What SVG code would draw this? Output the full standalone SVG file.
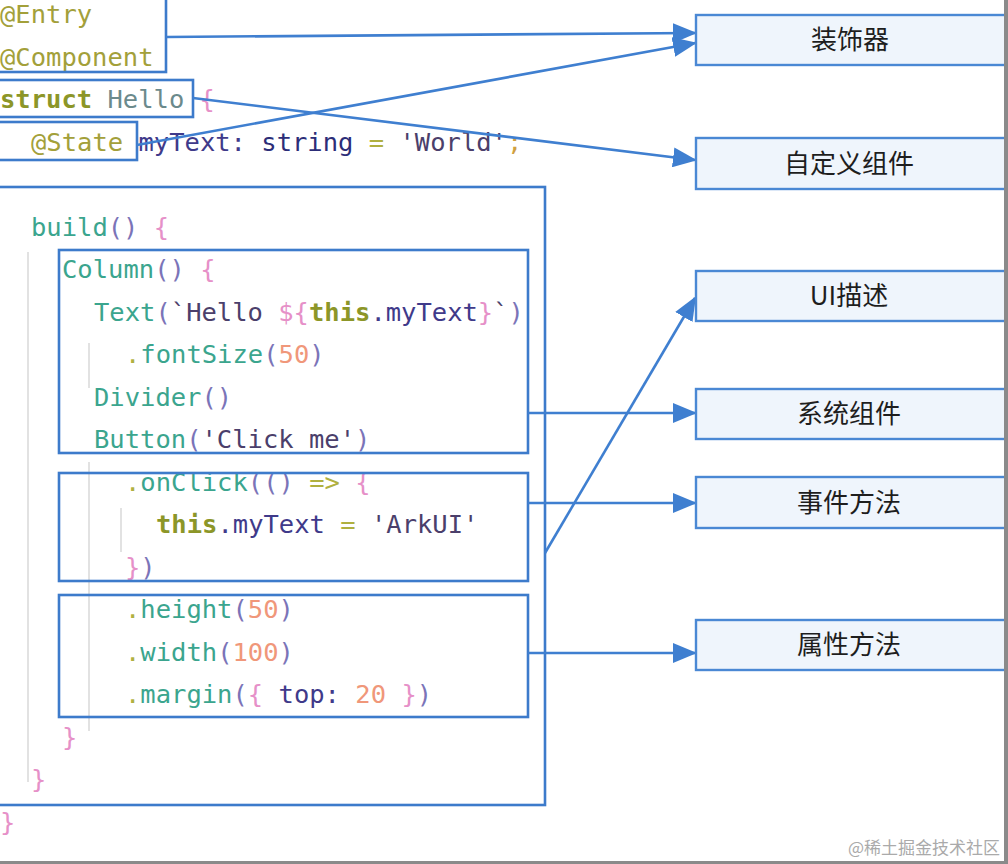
<svg xmlns="http://www.w3.org/2000/svg" width="1008" height="864" viewBox="0 0 1008 864">
<style>
.code{font-family:"DejaVu Sans Mono","Liberation Mono",monospace;font-size:25.5px;}
.dec{fill:#a3a03a}.kw{fill:#8c9628;font-weight:bold}.cls{fill:#6b8a8c}.br{fill:#e690c8}
.fn{fill:#3ba58e}.pa{fill:#7b74b8}.st{fill:#4b3f6b}.va{fill:#3f3a8a}.num{fill:#f0977a}.op{fill:#b0b040}
.guide{stroke:#e2e2e2;stroke-width:2}
.cbox{fill:none;stroke:#3d7bcb;stroke-width:2.6}
.nbox{fill:#eff5fc;stroke:#4a88d4;stroke-width:2.4}
.lbl{font-family:"Noto Sans CJK SC","Noto Sans",sans-serif;font-size:26px;fill:#1e1e1e;text-anchor:middle}
.conn{stroke:#3f7fd0;stroke-width:2.6;fill:none}
</style>
<defs>
<marker id="ah" markerUnits="userSpaceOnUse" markerWidth="24" markerHeight="20" refX="22" refY="10" orient="auto">
<path d="M0,0 L24,10 L0,20 Z" fill="#3f7fd0"/>
</marker>
</defs>
<rect width="1008" height="864" fill="#ffffff"/>
<g id="guides">
<line class="guide" x1="28" y1="252" x2="28" y2="782"/>
<line class="guide" x1="89" y1="462" x2="89" y2="731"/>
<line class="guide" x1="89" y1="343" x2="89" y2="388"/>
<line class="guide" x1="121" y1="508" x2="121" y2="552"/>
</g>
<g id="code" class="code" xml:space="preserve">
<text x="0" y="23"><tspan class="dec">@Entry</tspan></text>
<text x="0" y="65.5"><tspan class="dec">@Component</tspan></text>
<text x="0" y="108"><tspan class="kw">struct</tspan><tspan class="cls"> Hello</tspan><tspan class="br"> {</tspan></text>
<text x="31" y="150.5"><tspan class="dec">@State</tspan><tspan class="va"> myText:</tspan><tspan fill="#2c2d78"> string</tspan><tspan class="op"> =</tspan><tspan class="st"> 'World'</tspan><tspan fill="#d0a040">;</tspan></text>
<text x="31" y="235.5"><tspan class="fn">build</tspan><tspan class="pa">()</tspan><tspan class="br"> {</tspan></text>
<text x="62" y="278"><tspan class="fn">Column</tspan><tspan class="pa">()</tspan><tspan class="br"> {</tspan></text>
<text x="94" y="320.5"><tspan class="fn">Text</tspan><tspan class="pa">(</tspan><tspan class="st">`Hello </tspan><tspan class="br">${</tspan><tspan class="kw">this</tspan><tspan class="va">.myText</tspan><tspan class="br">}</tspan><tspan class="st">`</tspan><tspan class="pa">)</tspan></text>
<text x="125" y="363"><tspan class="op">.</tspan><tspan class="fn">fontSize</tspan><tspan class="pa">(</tspan><tspan class="num">50</tspan><tspan class="pa">)</tspan></text>
<text x="94" y="405.5"><tspan class="fn">Divider</tspan><tspan class="pa">()</tspan></text>
<text x="94" y="448"><tspan class="fn">Button</tspan><tspan class="pa">(</tspan><tspan class="st">'Click me'</tspan><tspan class="pa">)</tspan></text>
<text x="125" y="490.5"><tspan class="op">.</tspan><tspan class="fn">onClick</tspan><tspan class="pa">(()</tspan><tspan class="op"> =&gt;</tspan><tspan class="br"> {</tspan></text>
<text x="156" y="533"><tspan class="kw">this</tspan><tspan class="va">.myText</tspan><tspan class="op"> =</tspan><tspan class="st"> 'ArkUI'</tspan></text>
<text x="125" y="575.5"><tspan class="br">}</tspan><tspan class="pa">)</tspan></text>
<text x="125" y="618"><tspan class="op">.</tspan><tspan class="fn">height</tspan><tspan class="pa">(</tspan><tspan class="num">50</tspan><tspan class="pa">)</tspan></text>
<text x="125" y="660.5"><tspan class="op">.</tspan><tspan class="fn">width</tspan><tspan class="pa">(</tspan><tspan class="num">100</tspan><tspan class="pa">)</tspan></text>
<text x="125" y="703"><tspan class="op">.</tspan><tspan class="fn">margin</tspan><tspan class="pa">(</tspan><tspan class="br">{</tspan><tspan class="va"> top:</tspan><tspan class="num"> 20</tspan><tspan class="br"> }</tspan><tspan class="pa">)</tspan></text>
<text x="62" y="745.5"><tspan class="br">}</tspan></text>
<text x="31" y="788"><tspan class="br">}</tspan></text>
<text x="0" y="830.5"><tspan class="br">}</tspan></text>
</g>
<g id="code-boxes">
<rect id="box-decorators" class="cbox" x="-2" y="-2" width="168" height="74"/>
<rect id="box-struct" class="cbox" x="-2" y="80" width="195" height="37"/>
<rect id="box-state" class="cbox" x="-2" y="122" width="139" height="38"/>
<rect id="box-build" class="cbox" x="-2" y="187" width="547" height="618"/>
<rect id="box-column" class="cbox" x="59" y="250" width="469" height="203"/>
<rect id="box-onclick" class="cbox" x="59" y="473" width="469" height="108"/>
<rect id="box-attrs" class="cbox" x="59" y="595" width="469" height="122"/>
</g>
<g id="connectors">
<line class="conn" x1="166" y1="37" x2="695" y2="33" marker-end="url(#ah)"/>
<line class="conn" x1="137" y1="145" x2="695" y2="43" marker-end="url(#ah)"/>
<line class="conn" x1="193" y1="98" x2="695" y2="160" marker-end="url(#ah)"/>
<line class="conn" x1="545" y1="553" x2="695" y2="298" marker-end="url(#ah)"/>
<line class="conn" x1="528" y1="413" x2="695" y2="413" marker-end="url(#ah)"/>
<line class="conn" x1="528" y1="503" x2="695" y2="503" marker-end="url(#ah)"/>
<line class="conn" x1="528" y1="653" x2="695" y2="653" marker-end="url(#ah)"/>
</g>
<g id="node-decorator"><rect class="nbox" x="696" y="15" width="310" height="50"/><text class="lbl" x="850" y="49">装饰器</text></g>
<g id="node-custom"><rect class="nbox" x="696" y="138" width="310" height="51"/><text class="lbl" x="849" y="173">自定义组件</text></g>
<g id="node-ui"><rect class="nbox" x="696" y="271" width="310" height="50"/><text class="lbl" x="849" y="305">UI描述</text></g>
<g id="node-system"><rect class="nbox" x="696" y="389" width="310" height="50"/><text class="lbl" x="849" y="423">系统组件</text></g>
<g id="node-event"><rect class="nbox" x="696" y="477" width="310" height="51"/><text class="lbl" x="849" y="512">事件方法</text></g>
<g id="node-attr"><rect class="nbox" x="696" y="620" width="310" height="50"/><text class="lbl" x="849" y="654">属性方法</text></g>
<g id="frame">
<rect x="1004" y="0" width="4" height="864" fill="#8a8a8a"/>
<rect x="0" y="861" width="1008" height="3" fill="#8a8a8a"/>
</g>
<text x="1000" y="854" font-family="'Noto Sans CJK SC',sans-serif" font-size="17" fill="#aaaaaa" text-anchor="end">@稀土掘金技术社区</text>
</svg>
